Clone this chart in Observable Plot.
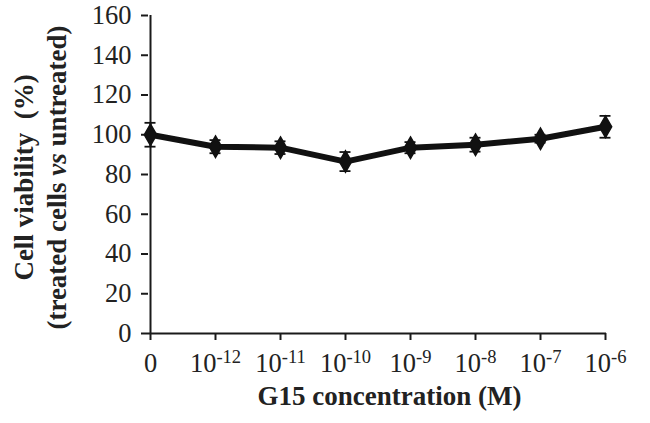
<!DOCTYPE html>
<html>
<head>
<meta charset="utf-8">
<script src="https://cdn.jsdelivr.net/npm/d3@7"></script>
<script src="https://cdn.jsdelivr.net/npm/@observablehq/plot@0.6"></script>
<style>
  html, body { margin: 0; padding: 0; background: #fff; }
</style>
</head>
<body>
<div id="chart"></div>
<script>
// Data
const concentrations = ["0", "10^-12", "10^-11", "10^-10", "10^-9", "10^-8", "10^-7", "10^-6"];
const viability = [100, 94, 93.5, 86.5, 93.5, 95, 98, 104];
const errors = [6, 3.3, 3.2, 4.8, 2.8, 3.5, 2, 5.5];
const yTicks = [0, 20, 40, 60, 80, 100, 120, 140, 160];
const yLabelLines = ["Cell viability  (%)", "(treated cells vs untreated)"];
const xLabel = "G15 concentration (M)";

const data = concentrations.map((c, i) => ({
  c, v: viability[i], lo: viability[i] - errors[i], hi: viability[i] + errors[i]
}));

const plot = Plot.plot({
  width: 650,
  height: 423,
  marginLeft: 148,
  marginRight: 44,
  marginTop: 15,
  marginBottom: 90,
  style: { fontFamily: "'Liberation Serif', 'Times New Roman', serif", fontSize: "27px", color: "#1a1a1a", background: "#fff" },
  x: { type: "point", domain: concentrations, padding: 0 },
  y: { domain: [0, 160] },
  marks: [
    Plot.axisY({ ticks: yTicks, tickSize: 7, tickPadding: 10, tickFormat: d => String(d), label: null, strokeWidth: 2 }),
    Plot.axisX({ tickSize: 7, tickPadding: 13, label: null, strokeWidth: 2 }),
    Plot.ruleY([0], { strokeWidth: 2 }),
    Plot.ruleX([concentrations[0]], { y1: 0, y2: 160, strokeWidth: 2 }),
    Plot.ruleX(data, { x: "c", y1: "lo", y2: "hi", strokeWidth: 1.8, stroke: "#111" }),
    Plot.ruleY(data, { x1: "c", x2: "c", y: "lo", insetLeft: -5.5, insetRight: -5.5, strokeWidth: 1.8, stroke: "#111" }),
    Plot.ruleY(data, { x1: "c", x2: "c", y: "hi", insetLeft: -5.5, insetRight: -5.5, strokeWidth: 1.8, stroke: "#111" }),
    Plot.line(data, { x: "c", y: "v", stroke: "#111", strokeWidth: 6, strokeLinejoin: "round" }),
    Plot.dot(data, { x: "c", y: "v", symbol: "diamond", r: 6.5, fill: "#111", stroke: "#111" }),
    Plot.text([yLabelLines[0]], { frameAnchor: "left", textAnchor: "middle", dx: -124, dy: 3, rotate: -90, fontWeight: "bold", fontSize: 27, fill: "#222" }),
    Plot.text([yLabelLines[1]], { frameAnchor: "left", textAnchor: "middle", dx: -91, dy: 3, rotate: -90, fontWeight: "bold", fontSize: 27, fill: "#222" }),
    Plot.text([xLabel], { frameAnchor: "bottom", dy: 71, dx: 12, fontWeight: "bold", fontSize: 27, fill: "#222" })
  ]
});

// tick label font and colour, set on each text
d3.select(plot).selectAll("g[aria-label='x-axis tick label'] text, g[aria-label='y-axis tick label'] text")
  .attr("font-size", 26.5).style("font-size", "26.5px").attr("fill", "#222");
// superscripts on x tick labels
d3.select(plot).selectAll("g[aria-label='x-axis tick label'] text").each(function () {
  const t = d3.select(this);
  const s = t.text();
  if (s.includes("^")) {
    const [base, exp] = s.split("^");
    t.text(null);
    t.append("tspan").text(base);
    t.append("tspan").attr("dy", "-0.5em").style("font-size", "0.7em").text(exp);
  }
});
// italic "vs"
d3.select(plot).selectAll("text").each(function () {
  const t = d3.select(this);
  const s = t.text();
  if (s === yLabelLines[1]) {
    const parts = s.split(" vs ");
    t.text(null);
    t.append("tspan").text(parts[0] + " ");
    t.append("tspan").attr("font-style", "italic").text("vs");
    t.append("tspan").text(" " + parts[1]);
  }
});

document.getElementById("chart").appendChild(plot);
</script>
</body>
</html>
